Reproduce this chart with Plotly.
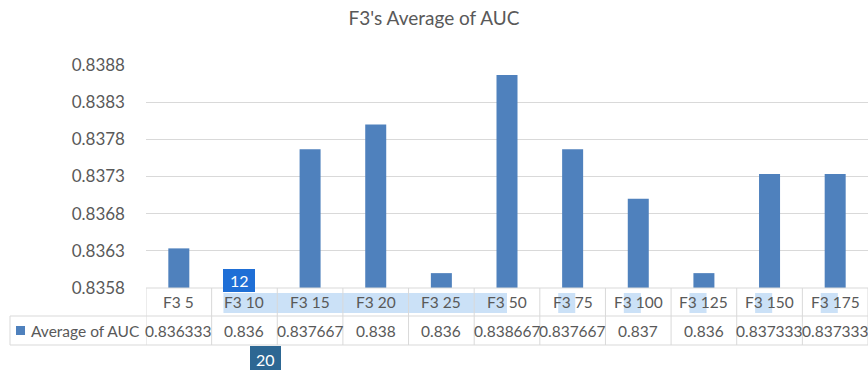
import plotly.graph_objects as go

categories = ["F3 5", "F3 10", "F3 15", "F3 20", "F3 25", "F3 50", "F3 75", "F3 100", "F3 125", "F3 150", "F3 175"]
auc_values = [0.836333, 0.836, 0.837667, 0.838, 0.836, 0.838667, 0.837667, 0.837, 0.836, 0.837333, 0.837333]
table_labels = ["0.836333", "0.836", "0.837667", "0.838", "0.836", "0.838667", "0.837667", "0.837", "0.836", "0.837333", "0.837333"]
tick_vals = [0.8358, 0.8363, 0.8368, 0.8373, 0.8378, 0.8383, 0.8388]
tick_text = ["0.8358", "0.8363", "0.8368", "0.8373", "0.8378", "0.8383", "0.8388"]
series_name = "Average of AUC"
title_text = "F3's Average of AUC"

W, H = 868, 370
L, R, T, B = 146, 0, 65, 82
plot_h = H - T - B
plot_w = W - L - R

def py(p):
    return (H - B - p) / plot_h

def px(p):
    return (p - L) / plot_w

FONT = "Lato, Open Sans, sans-serif"
GRAY = "#595959"
LINE = "#d9d9d9"
BAR = "#4f81bd"

fig = go.Figure()
fig.add_trace(go.Bar(x=list(range(len(categories))), y=[v - 0.8358 for v in auc_values], base=0.8358,
                     marker=dict(color=BAR, line=dict(width=0)), name=series_name, showlegend=False,
                     hoverinfo="skip"))

shapes = []
annotations = []
row1_bot = py(316)
row2_bot = py(345)
for yv in [0, row1_bot, row2_bot]:
    shapes.append(dict(type="line", xref="x", yref="paper", x0=-0.5, x1=len(categories) - 0.5,
                       y0=yv, y1=yv, line=dict(color=LINE, width=1), layer="above"))
shapes.append(dict(type="line", xref="paper", yref="paper", x0=px(10), x1=0, y0=row1_bot, y1=row1_bot,
                   line=dict(color=LINE, width=1)))
shapes.append(dict(type="line", xref="paper", yref="paper", x0=px(10), x1=0, y0=row2_bot, y1=row2_bot,
                   line=dict(color=LINE, width=1)))
shapes.append(dict(type="line", xref="paper", yref="paper", x0=px(10), x1=px(10), y0=row1_bot, y1=row2_bot,
                   line=dict(color=LINE, width=1)))
for i in range(len(categories) + 1):
    shapes.append(dict(type="line", xref="x", yref="paper", x0=i - 0.5, x1=i - 0.5, y0=0, y1=row2_bot,
                       line=dict(color=LINE, width=1)))
# highlight overlays (selection artifacts in the reference)
shapes.append(dict(type="rect", xref="x", yref="paper", x0=0.68, x1=5.0, y0=py(313), y1=py(293),
                   fillcolor="rgba(160,200,240,0.55)", line=dict(width=0), layer="below"))
for i in range(6, len(categories)):
    shapes.append(dict(type="rect", xref="x", yref="paper", x0=i - 0.22, x1=i + 0.04, y0=py(313), y1=py(293),
                       fillcolor="rgba(160,200,240,0.55)", line=dict(width=0), layer="below"))
# legend key
shapes.append(dict(type="rect", xref="paper", yref="paper", x0=px(16), x1=px(25), y0=py(335), y1=py(326),
                   fillcolor=BAR, line=dict(width=0)))
# badge "12" background (overlay artifact in the reference)
shapes.append(dict(type="rect", xref="paper", yref="paper", x0=px(223), x1=px(255), y0=py(292), y1=py(269),
                   fillcolor="#1f6fd6", line=dict(width=0), layer="above"))
shapes.append(dict(type="rect", xref="paper", yref="paper", x0=px(250), x1=px(281), y0=py(372), y1=py(346),
                   fillcolor="#2d6793", line=dict(width=0), layer="above"))

for i, c in enumerate(categories):
    annotations.append(dict(x=i, y=py(302), xref="x", yref="paper", text=c, showarrow=False,
                            font=dict(family=FONT, size=15.5, color=GRAY), xanchor="center", yanchor="middle"))
    annotations.append(dict(x=i, y=py(331), xref="x", yref="paper", text=table_labels[i], showarrow=False,
                            font=dict(family=FONT, size=15.5, color=GRAY), xanchor="center", yanchor="middle"))
annotations.append(dict(x=px(29), y=py(331), xref="paper", yref="paper", text=series_name, showarrow=False,
                        font=dict(family=FONT, size=15.5, color=GRAY), xanchor="left", yanchor="middle"))
annotations.append(dict(x=px(239), y=py(280.5), xref="paper", yref="paper", text="12", showarrow=False,
                        font=dict(family=FONT, size=16, color="white"), xanchor="center", yanchor="middle"))
annotations.append(dict(x=px(265.5), y=py(359), xref="paper", yref="paper", text="20", showarrow=False,
                        font=dict(family=FONT, size=16, color="white"), xanchor="center", yanchor="middle"))

fig.update_layout(
    width=W, height=H,
    margin=dict(l=L, r=R, t=T, b=B),
    paper_bgcolor="white", plot_bgcolor="white",
    bargap=0.68,
    title=dict(text=title_text, x=0.5, xanchor="center", y=1 - 18 / H, yanchor="middle",
               font=dict(family=FONT, size=19, color=GRAY)),
    xaxis=dict(range=[-0.5, len(categories) - 0.5], showticklabels=False, showgrid=False,
               zeroline=False, showline=False, fixedrange=True),
    yaxis=dict(range=[0.8358, 0.8388], tickvals=tick_vals, ticktext=tick_text, showgrid=True,
               gridcolor=LINE, gridwidth=1, zeroline=False, showline=False, fixedrange=True,
               tickfont=dict(family=FONT, size=17, color=GRAY), ticklabelstandoff=20),
    shapes=shapes, annotations=annotations, showlegend=False, hovermode=False,
)

fig.write_html("out.html", config={"displayModeBar": False},
               post_script="document.body.style.margin='0';document.body.style.overflow='hidden';")
